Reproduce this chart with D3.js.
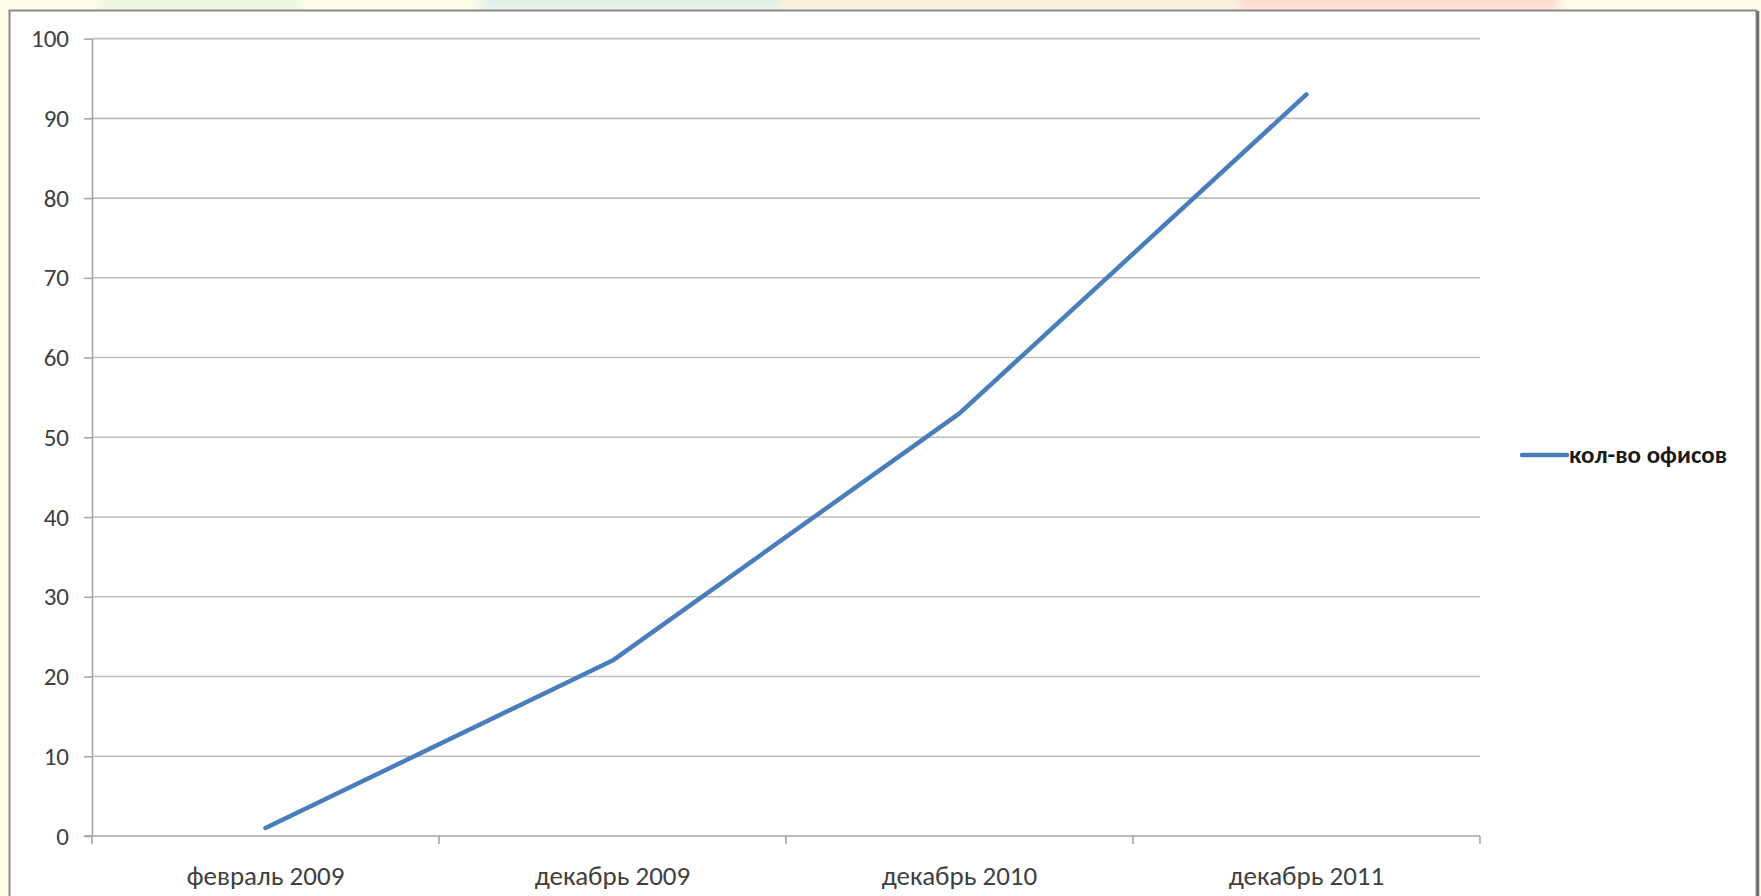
<!DOCTYPE html>
<html>
<head>
<meta charset="utf-8">
<script src="https://cdn.jsdelivr.net/npm/d3@7"></script>
<style>
  html, body { margin: 0; padding: 0; background: #fefee8; overflow: hidden; }
  svg { display: block; }
</style>
</head>
<body>
<svg id="chart" width="1761" height="896"></svg>
<script>
// ---- data ----
const categories = ["февраль 2009", "декабрь 2009", "декабрь 2010", "декабрь 2011"];
const seriesName = "кол-во офисов";
const officeCounts = [1, 22, 53, 93];
const yTicks = [0, 10, 20, 30, 40, 50, 60, 70, 80, 90, 100];

const svg = d3.select("#chart");
const W = 1761, H = 896;
const FONT = "Carlito, Calibri, Lato, 'Open Sans', sans-serif";

// faint decorative background strip at top
const defs = svg.append("defs");
defs.append("filter").attr("id", "soft").append("feGaussianBlur").attr("stdDeviation", 6);
const deco = [
  {x0: 100, x1: 300, c: "#e6f2d8"},
  {x0: 480, x1: 780, c: "#d5ebe8"},
  {x0: 780, x1: 1240, c: "#f8ead6"},
  {x0: 1240, x1: 1560, c: "#f8d0c6"}
];
svg.append("g").attr("filter", "url(#soft)")
  .selectAll("rect").data(deco).enter().append("rect")
  .attr("x", d => d.x0).attr("y", -10)
  .attr("width", d => d.x1 - d.x0).attr("height", 22)
  .attr("fill", d => d.c).attr("opacity", 0.75);

// chart frame
svg.append("rect")
  .attr("x", 9.5).attr("y", 10.5)
  .attr("width", 1747).attr("height", 900)
  .attr("fill", "#ffffff")
  .attr("stroke", "#8a8a8a").attr("stroke-width", 2);
svg.append("line")
  .attr("x1", 1758).attr("x2", 1758).attr("y1", 11).attr("y2", H)
  .attr("stroke", "#6e6e6e").attr("stroke-width", 2.5);

// scales
const plot = {left: 92, right: 1480, top: 38.6, bottom: 836};
const x = d3.scaleBand().domain(categories).range([plot.left, plot.right]).padding(0);
const y = d3.scaleLinear().domain([0, 100]).range([plot.bottom, plot.top]);

// gridlines
svg.append("g").selectAll("line").data(yTicks.filter(v => v > 0)).enter().append("line")
  .attr("x1", plot.left).attr("x2", plot.right)
  .attr("y1", d => y(d)).attr("y2", d => y(d))
  .attr("stroke", "#bebebe").attr("stroke-width", 1.6);

// y axis
const yAxis = svg.append("g")
  .attr("transform", `translate(${plot.left},0)`)
  .call(d3.axisLeft(y).tickValues(yTicks).tickSize(8).tickPadding(15).tickSizeOuter(0));
yAxis.select(".domain").attr("stroke", "#a6a6a6").attr("stroke-width", 1.6);
yAxis.selectAll(".tick line").attr("stroke", "#a6a6a6").attr("stroke-width", 1.6);
yAxis.selectAll("text").attr("font-family", FONT).attr("font-size", 25).attr("fill", "#404040");

// x axis
const xAxis = svg.append("g")
  .attr("transform", `translate(0,${plot.bottom})`)
  .call(d3.axisBottom(x).tickSize(0).tickPadding(30));
xAxis.select(".domain").attr("stroke", "#a6a6a6").attr("stroke-width", 1.6)
  .attr("d", `M${plot.left - 8},0H${plot.right}`);
xAxis.selectAll("text").attr("font-family", FONT).attr("font-size", 27).attr("fill", "#404040");
const boundaries = categories.map(c => x(c)).concat([plot.right]);
svg.append("g").selectAll("line").data(boundaries).enter().append("line")
  .attr("x1", d => d).attr("x2", d => d)
  .attr("y1", plot.bottom).attr("y2", plot.bottom + 8)
  .attr("stroke", "#a6a6a6").attr("stroke-width", 1.6);

// line series
const line = d3.line()
  .x((d, i) => x(categories[i]) + x.bandwidth() / 2)
  .y(d => y(d));
svg.append("path")
  .datum(officeCounts)
  .attr("d", line)
  .attr("fill", "none")
  .attr("stroke", "#4a7ebb")
  .attr("stroke-width", 4.5)
  .attr("stroke-linejoin", "round")
  .attr("stroke-linecap", "round");

// legend
const lg = svg.append("g").attr("transform", "translate(1522,455)");
lg.append("line").attr("x1", 0).attr("x2", 45).attr("y1", 0).attr("y2", 0)
  .attr("stroke", "#4a7ebb").attr("stroke-width", 4.5).attr("stroke-linecap", "round");
lg.append("text").attr("x", 47).attr("y", 8)
  .attr("font-family", FONT).attr("font-size", 25).attr("font-weight", "bold")
  .attr("fill", "#1a1a1a")
  .text(seriesName);
</script>
</body>
</html>
